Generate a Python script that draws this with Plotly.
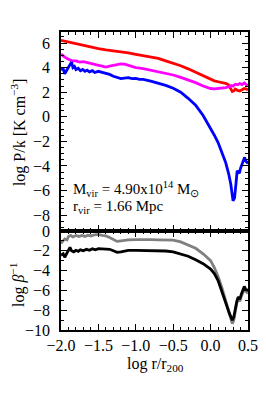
import plotly.graph_objects as go

# ---- data ----
red_x = [-2.0, -1.9, -1.8, -1.7, -1.6, -1.5, -1.4, -1.3, -1.2, -1.1, -1.0, -0.9, -0.8, -0.7,
         -0.6, -0.5, -0.4, -0.3, -0.2, -0.1, 0.0, 0.05, 0.1, 0.15, 0.2, 0.24, 0.27, 0.29,
         0.31, 0.33, 0.36, 0.39, 0.42, 0.45, 0.48, 0.5]
red_y = [6.22, 6.08, 5.95, 5.85, 5.72, 5.55, 5.45, 5.38, 5.3, 5.2, 5.08, 4.98, 4.88, 4.75,
         4.55, 4.38, 4.15, 3.9, 3.62, 3.35, 3.05, 2.92, 2.85, 2.8, 2.72, 2.6, 2.3, 2.05,
         2.1, 2.25, 2.15, 2.1, 2.2, 2.3, 2.25, 2.2]

mag_x = [-2.0, -1.95, -1.9, -1.85, -1.8, -1.75, -1.7, -1.65, -1.6, -1.55, -1.5, -1.45, -1.4,
         -1.35, -1.3, -1.25, -1.2, -1.15, -1.1, -1.05, -1.0, -0.9, -0.8, -0.7, -0.6, -0.5,
         -0.4, -0.3, -0.2, -0.1, 0.0, 0.05, 0.1, 0.15, 0.2, 0.25, 0.28, 0.3, 0.33, 0.36,
         0.39, 0.42, 0.45, 0.48, 0.5]
mag_y = [5.1, 4.85, 4.68, 4.55, 4.55, 4.45, 4.48, 4.4, 4.35, 4.25, 4.15, 4.1, 4.05,
         4.12, 4.2, 4.25, 4.3, 4.28, 4.2, 4.1, 4.0, 3.92, 3.8, 3.7, 3.55, 3.4,
         3.2, 3.0, 2.78, 2.5, 2.3, 2.27, 2.3, 2.32, 2.38, 2.45, 2.55, 2.5, 2.65, 2.6,
         2.7, 2.62, 2.75, 2.6, 2.55]

blue_x = [-2.0, -1.97, -1.95, -1.93, -1.9, -1.88, -1.86, -1.84, -1.82, -1.8, -1.77, -1.74,
          -1.71, -1.68, -1.65, -1.62, -1.58, -1.55, -1.5, -1.45, -1.4, -1.35, -1.3, -1.25,
          -1.2, -1.15, -1.1, -1.05, -1.0, -0.95, -0.9, -0.8, -0.7, -0.6, -0.5, -0.4, -0.3,
          -0.2, -0.1, 0.0, 0.05, 0.1, 0.15, 0.2, 0.24, 0.27, 0.3, 0.32, 0.34, 0.355, 0.37,
          0.385, 0.4, 0.42, 0.44, 0.455, 0.47, 0.485, 0.5]
blue_y = [3.85, 3.9, 3.5, 3.7, 4.0, 4.2, 4.45, 4.0, 4.1, 3.85, 3.95, 3.75,
          3.85, 3.7, 3.8, 3.65, 3.75, 3.6, 3.7, 3.62, 3.55, 3.45, 3.3, 3.2,
          3.1, 3.15, 3.18, 3.1, 3.12, 3.05, 3.05, 2.9, 2.75, 2.55, 2.32, 2.0, 1.5,
          0.95, 0.1, -0.9, -1.5, -2.1, -2.9, -3.7, -4.6, -5.5, -6.85, -6.6, -5.4, -4.4, -4.5,
          -4.6, -4.2, -3.8, -3.4, -3.3, -3.6, -3.75, -3.8]

gray_x = [-2.0, -1.97, -1.95, -1.92, -1.9, -1.87, -1.84, -1.8, -1.76, -1.72, -1.68, -1.64,
          -1.6, -1.55, -1.5, -1.45, -1.4, -1.35, -1.3, -1.25, -1.2, -1.15, -1.1, -1.0, -0.9,
          -0.8, -0.7, -0.6, -0.5, -0.4, -0.3, -0.2, -0.1, 0.0, 0.05, 0.1, 0.15, 0.2, 0.25,
          0.29, 0.31, 0.33, 0.35, 0.37, 0.39, 0.41, 0.43, 0.45, 0.47, 0.5]
gray_y = [-1.25, -1.0, -0.8, -0.9, -0.55, -0.45, -0.6, -0.45, -0.55, -0.45, -0.55, -0.42,
          -0.5, -0.38, -0.35, -0.45, -0.5, -0.65, -0.85, -1.05, -1.0, -0.95, -0.9, -0.88, -0.85,
          -0.88, -0.9, -0.88, -0.92, -1.1, -1.4, -1.75, -2.3, -3.0, -3.7, -4.6, -5.7, -7.0, -8.3,
          -9.35, -9.0, -8.0, -7.3, -6.9, -7.1, -6.6, -6.2, -5.9, -6.1, -6.3]

black_x = [-2.0, -1.97, -1.95, -1.92, -1.9, -1.88, -1.86, -1.83, -1.8, -1.77, -1.74, -1.7,
           -1.66, -1.62, -1.58, -1.54, -1.5, -1.45, -1.4, -1.35, -1.3, -1.25, -1.2, -1.15,
           -1.1, -1.0, -0.9, -0.8, -0.7, -0.6, -0.5, -0.4, -0.3, -0.2, -0.1, 0.0, 0.05, 0.1,
           0.15, 0.2, 0.25, 0.29, 0.31, 0.33, 0.35, 0.37, 0.39, 0.41, 0.43, 0.45, 0.47, 0.5]
black_y = [-2.45, -2.3, -2.65, -2.2, -1.8, -1.65, -2.0, -2.1, -1.95, -2.05, -1.9, -2.0,
           -1.85, -1.95, -1.8, -1.9, -1.78, -1.8, -1.77, -1.85, -2.0, -2.15, -2.1, -2.0,
           -1.95, -1.95, -1.95, -1.95, -2.0, -2.02, -2.1, -2.3, -2.55, -2.9, -3.3, -3.85, -4.3, -5.0,
           -6.0, -7.2, -8.3, -9.0, -8.7, -7.8, -7.1, -6.65, -6.9, -6.4, -6.0, -5.6, -5.9, -6.0]

x_ticks = [-2.0, -1.5, -1.0, -0.5, 0.0, 0.5]
top_ticks = [6, 4, 2, 0, -2, -4, -6, -8]
bot_ticks = [0, -2, -4, -6, -8, -10]

FONT = "Liberation Serif"
FS = 16
LW = 2.8

fig = go.Figure()
fig.add_trace(go.Scatter(x=red_x, y=red_y, mode="lines", line=dict(color="#ff0000", width=LW),
                         xaxis="x", yaxis="y"))
fig.add_trace(go.Scatter(x=mag_x, y=mag_y, mode="lines", line=dict(color="#ff00ff", width=LW),
                         xaxis="x", yaxis="y"))
fig.add_trace(go.Scatter(x=blue_x, y=blue_y, mode="lines", line=dict(color="#0000ff", width=LW),
                         xaxis="x", yaxis="y"))
fig.add_trace(go.Scatter(x=gray_x, y=gray_y, mode="lines", line=dict(color="#808080", width=LW),
                         xaxis="x2", yaxis="y2"))
fig.add_trace(go.Scatter(x=black_x, y=black_y, mode="lines", line=dict(color="#000000", width=LW),
                         xaxis="x2", yaxis="y2"))

common_axis = dict(showline=True, linecolor="black", linewidth=1.5, mirror="allticks",
                   ticks="inside", ticklen=6, tickwidth=1, tickcolor="black",
                   showgrid=False, zeroline=False, automargin=False,
                   tickfont=dict(family=FONT, size=FS, color="black"))

split = 99 / 298

# page body adds an 8px offset; size the figure so the plot frame lands
# at the reference position (x 61..248, y 32..330 in the window)
fig.update_layout(
    width=258, height=391,
    margin=dict(l=53, r=18, t=24, b=69),
    paper_bgcolor="white", plot_bgcolor="white",
    showlegend=False,
    font=dict(family=FONT, color="black"),
    xaxis=dict(common_axis, range=[-2.0, 0.5], anchor="y", domain=[0, 1],
               tickvals=x_ticks, showticklabels=False,
               minor=dict(dtick=0.1, tick0=0, ticks="inside", ticklen=3, tickcolor="black")),
    yaxis=dict(common_axis, range=[-9.3, 6.9], anchor="x", domain=[split, 1],
               tickvals=top_ticks, ticklabelstandoff=6,
               minor=dict(dtick=0.5, tick0=0, ticks="inside", ticklen=3, tickcolor="black")),
    xaxis2=dict(common_axis, range=[-2.0, 0.5], anchor="y2", domain=[0, 1],
                tickvals=x_ticks, tickformat=".1f", ticklabelstandoff=0,
                minor=dict(dtick=0.1, tick0=0, ticks="inside", ticklen=3, tickcolor="black")),
    yaxis2=dict(common_axis, range=[-10, 0], anchor="x2", domain=[0, split],
                tickvals=bot_ticks, ticklabelstandoff=6,
                minor=dict(dtick=1, tick0=0, ticks="inside", ticklen=3, tickcolor="black")),
)

title_font = dict(family=FONT, size=FS, color="black")
fig.add_annotation(x=-0.23, y=0.664, xref="paper", yref="paper", textangle=-90,
                   xanchor="center", yanchor="middle", showarrow=False,
                   text="log P/k [K cm<sup>−3</sup>]", font=title_font)
fig.add_annotation(x=-0.235, y=0.151, xref="paper", yref="paper", textangle=-90,
                   xanchor="center", yanchor="middle", showarrow=False,
                   text="log <i>β</i><sup>−1</sup>", font=title_font)
fig.add_annotation(x=0.503, y=-0.117, xref="paper", yref="paper",
                   xanchor="center", yanchor="middle", showarrow=False,
                   text="log r/r<sub>200</sub>", font=title_font)

fig.add_annotation(x=-1.86, y=-5.9, xref="x", yref="y", xanchor="left", yanchor="middle",
                   text="M<sub>vir</sub> = 4.90x10<sup>14</sup> M<sub>⊙</sub>", showarrow=False,
                   font=dict(family=FONT, size=15, color="black"))
fig.add_annotation(x=-1.86, y=-7.35, xref="x", yref="y", xanchor="left", yanchor="middle",
                   text="r<sub>vir</sub> = 1.66 Mpc", showarrow=False,
                   font=dict(family=FONT, size=15, color="black"))

fig.write_html("out.html")
